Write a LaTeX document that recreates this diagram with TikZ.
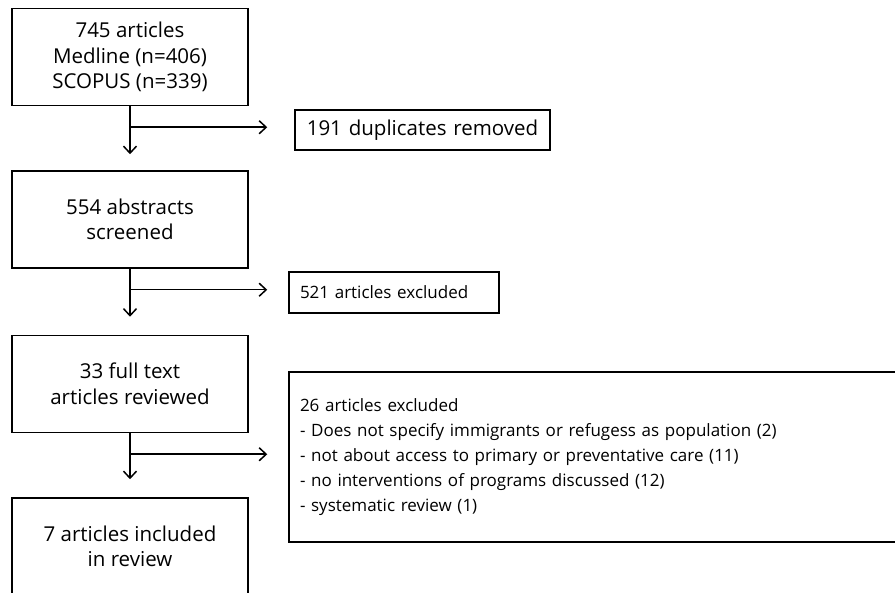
\documentclass[tikz,border=0pt]{standalone}
\usepackage{fontspec}
\setmainfont{Open Sans}
\usetikzlibrary{arrows.meta,positioning,calc}

\begin{document}
\begin{tikzpicture}[x=1pt,y=-1pt,
    box/.style={draw,rectangle,line width=1.5pt,minimum width=236pt,minimum height=97pt,align=center,inner sep=0pt,font=\fontsize{20.5}{25.5}\selectfont},
    side/.style={draw,rectangle,line width=1.5pt,align=left,inner xsep=11pt,inner ysep=0pt,font=\fontsize{17}{25}\selectfont},
    arr/.style={-{Straight Barb[length=7pt,width=13pt]},line width=1.5pt}]
    \clip (0,0) rectangle (895,593);

    \node[box] (search) at (130,57) {745 articles\\Medline (n=406)\\SCOPUS (n=339)};
    \node[box] (abstracts) at (130,219.5) {554 abstracts\\screened};
    \node[box] (fulltext) at (130,384) {33 full text\\articles reviewed};
    \node[box] (included) at (130,546.5) {7 articles included\\in review};

    \node[side,minimum width=255pt,minimum height=40pt,text width=233pt,align=center,font=\fontsize{20.5}{25}\selectfont] (dups) at (422.5,130) {191 duplicates removed};
    \node[side,minimum width=210pt,minimum height=41pt,text width=188pt] (excl1) at (394,292.5) {521 articles excluded};
    \node[side,minimum width=616pt,minimum height=170pt,text width=594pt] (excl2) at (597,457) {26 articles excluded\\- Does not specify immigrants or refugess as population (2)\\- not about access to primary or preventative care (11)\\- no interventions of programs discussed (12)\\- systematic review (1)};

    % main flow
    \draw[arr,shorten >=16pt] (search) -- (abstracts);
    \draw[arr,shorten >=18pt] (abstracts) -- (fulltext);
    \draw[arr,shorten >=18pt] (fulltext) -- (included);

    % exclusions
    \coordinate (j1) at ([yshift=-21pt]search.south);
    \coordinate (j2) at ([yshift=-21pt]abstracts.south);
    \coordinate (j3) at ([yshift=-21pt]fulltext.south);
    \draw[arr,shorten >=27pt] (j1) -- (j1 -| dups.west);
    \draw[arr,shorten >=21pt] (j2) -- (j2 -| excl1.west);
    \draw[arr,shorten >=21pt] (j3) -- (j3 -| excl2.west);
\end{tikzpicture}
\end{document}
